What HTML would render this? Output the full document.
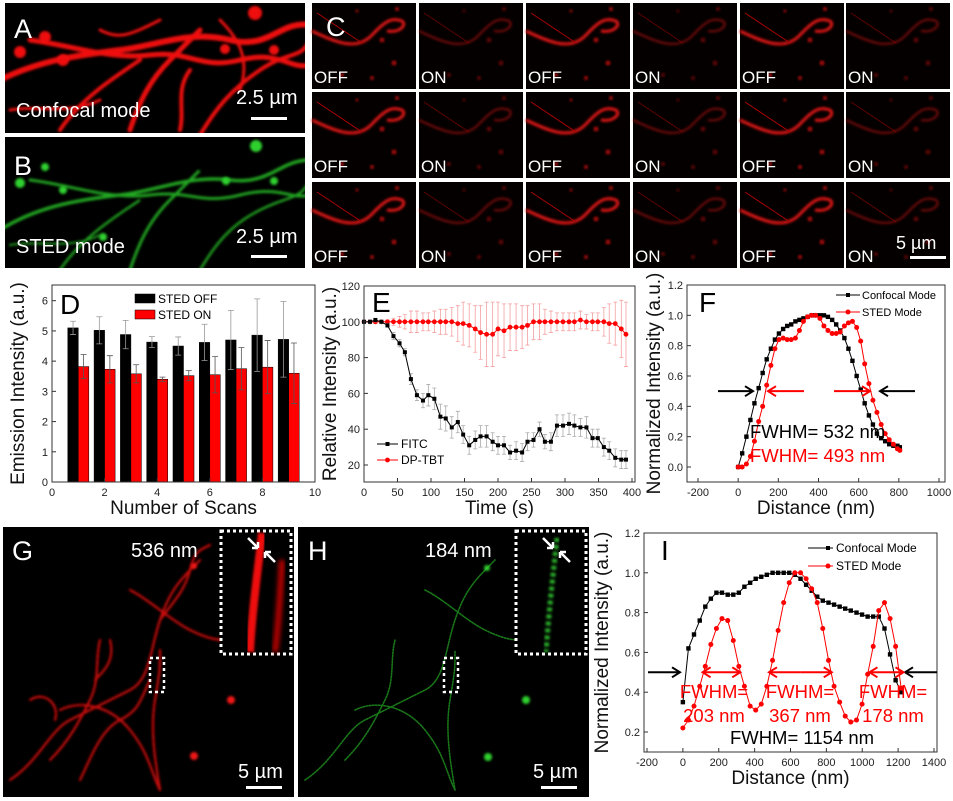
<!DOCTYPE html>
<html><head><meta charset="utf-8">
<style>
html,body{margin:0;padding:0;background:#fff;}
svg{display:block;font-family:"Liberation Sans",Arial,sans-serif;}
</style></head>
<body>
<svg id="fig" width="953" height="801" viewBox="0 0 953 801" xmlns="http://www.w3.org/2000/svg">
<defs>
<filter id="blur1" x="-20%" y="-20%" width="140%" height="140%"><feGaussianBlur stdDeviation="1.2"/></filter>
<filter id="blur2" x="-50%" y="-50%" width="200%" height="200%"><feGaussianBlur stdDeviation="2.5"/></filter>
<clipPath id="clipA"><rect x="5" y="3" width="300" height="130"/></clipPath>
<clipPath id="clipB"><rect x="5" y="137" width="300" height="131"/></clipPath>
<clipPath id="clipG"><rect x="3" y="527" width="291" height="270"/></clipPath>
<clipPath id="clipH"><rect x="298" y="527" width="291" height="270"/></clipPath>
</defs>
<rect x="0" y="0" width="953" height="801" fill="#fff"/>

<!-- Panel A -->
<g>
<rect x="5" y="3" width="300" height="130" fill="#000"/>
<g clip-path="url(#clipA)" fill="none" stroke="#f01010" stroke-linecap="round" filter="url(#blur1)">
<path d="M0,80 C40,60 80,55 120,50 S190,30 230,40 S280,20 310,25" stroke-width="6"/>
<path d="M30,40 C70,45 110,60 150,55 S200,70 240,60 S290,70 310,65" stroke-width="5"/>
<path d="M60,130 C80,100 110,80 140,60" stroke-width="4"/>
<path d="M130,130 C140,100 150,80 170,60 S190,40 200,30" stroke-width="5"/>
<path d="M180,130 C185,110 175,90 190,70" stroke-width="4"/>
<path d="M200,135 C215,110 230,90 260,70 S300,60 310,40" stroke-width="4"/>
<path d="M10,110 C40,105 70,115 100,100" stroke-width="3"/>
<path d="M220,20 C240,40 250,60 240,90" stroke-width="3"/>
<path d="M100,30 C120,40 130,35 160,20" stroke-width="3"/>
</g>
<g fill="#f01010" filter="url(#blur1)">
<circle cx="45" cy="37" r="6"/><circle cx="20" cy="52" r="6"/><circle cx="63" cy="60" r="6"/><circle cx="274" cy="50" r="5"/><circle cx="255" cy="13" r="7"/><circle cx="225" cy="49" r="5"/>
</g>
<text x="14" y="38" font-size="27" fill="#fff">A</text>
<text x="16" y="117" font-size="20" fill="#fff">Confocal mode</text>
<text x="236" y="104" font-size="20" fill="#fff">2.5 µm</text>
<rect x="251" y="117" width="36" height="3" fill="#fff"/>
</g>

<!-- Panel B -->
<g>
<rect x="5" y="137" width="300" height="131" fill="#000"/>
<g clip-path="url(#clipB)" fill="none" stroke="#22a822" stroke-linecap="round" stroke-dasharray="2 2" filter="url(#blur1)">
<path d="M0,230 C40,205 80,200 120,195 S190,175 230,180 S280,160 310,160" stroke-width="3.5"/>
<path d="M30,180 C70,185 110,200 150,195 S200,205 240,195 S290,200 310,195" stroke-width="3"/>
<path d="M60,270 C80,240 110,220 140,200" stroke-width="2.5"/>
<path d="M130,270 C140,240 150,220 170,200 S190,180 200,170" stroke-width="3"/>
<path d="M200,270 C215,245 230,225 260,210 S300,200 310,180" stroke-width="2.5"/>
<path d="M10,245 C40,240 70,250 100,235" stroke-width="2"/>
</g>
<g fill="#2fd02f" filter="url(#blur1)">
<circle cx="45" cy="167" r="4"/><circle cx="20" cy="183" r="5"/><circle cx="63" cy="190" r="4"/><circle cx="274" cy="181" r="4"/><circle cx="256" cy="146" r="6"/><circle cx="226" cy="181" r="4"/><circle cx="103" cy="237" r="4"/>
</g>
<text x="14" y="175" font-size="27" fill="#fff">B</text>
<text x="16" y="253" font-size="20" fill="#fff">STED mode</text>
<text x="236" y="243" font-size="20" fill="#fff">2.5 µm</text>
<rect x="251" y="255" width="36" height="3" fill="#fff"/>
</g>

<!-- Panel C -->
<g id="panelC"></g>

<!-- Panel G -->
<g>
<rect x="3" y="527" width="291" height="270" fill="#000"/>
<g clip-path="url(#clipG)" fill="none" stroke="#e81010" stroke-linecap="round" stroke-width="2.2" filter="url(#blur1)" opacity="0.9">
<path d="M10,780 C40,760 50,730 70,720 S110,700 130,690 S150,650 160,620 S180,580 200,560"/>
<path d="M50,760 C70,740 80,720 90,700 S95,660 100,640"/>
<path d="M80,780 C90,760 100,730 120,720 S140,700 150,680"/>
<path d="M160,790 C155,760 150,730 155,700 S160,670 160,650"/>
<path d="M60,710 C80,700 110,705 130,730 S150,770 160,790"/>
<path d="M130,590 C150,600 170,620 190,630 S220,640 225,640"/>
<path d="M160,620 C175,600 185,590 190,570 S200,550 210,545"/>
<path d="M30,700 C45,690 60,705 55,720"/>
<path d="M95,680 C105,670 115,660 110,640"/>
</g>
<g fill="#f01818" filter="url(#blur1)"><circle cx="231" cy="700" r="4"/><circle cx="194" cy="756" r="4"/><circle cx="194" cy="566" r="3"/></g>
<rect x="221" y="531" width="70" height="123" fill="#000" stroke="#fff" stroke-width="3" stroke-dasharray="3 3"/>
<path d="M262,533 C258,570 252,610 250,652" stroke="#f01010" stroke-width="8" fill="none" filter="url(#blur1)"/>
<path d="M282,560 C280,600 278,630 275,652" stroke="#b00" stroke-width="6" fill="none" filter="url(#blur2)"/>
<path d="M248,538 L258,548 M258,548 L252,548 M258,548 L258,542 M275,562 L265,552 M265,552 L271,552 M265,552 L265,558" stroke="#fff" stroke-width="2.5" fill="none"/>
<rect x="150" y="658" width="14" height="34" fill="none" stroke="#fff" stroke-width="2.5" stroke-dasharray="3 3"/>
<text x="12" y="560" font-size="27" fill="#fff">G</text>
<text x="131" y="557" font-size="20" fill="#fff">536 nm</text>
<text x="238" y="778" font-size="20" fill="#fff">5 µm</text>
<rect x="246" y="786" width="36" height="3" fill="#fff"/>
</g>

<!-- Panel H -->
<g>
<rect x="298" y="527" width="291" height="270" fill="#000"/>
<g clip-path="url(#clipH)" fill="none" stroke="#1e8a1e" stroke-linecap="round" stroke-width="1.6" stroke-dasharray="1.5 1.5" opacity="0.85">
<path d="M305,780 C335,760 345,730 365,720 S405,700 425,690 S445,650 455,620 S475,580 495,560"/>
<path d="M345,760 C365,740 375,720 385,700 S390,660 395,640"/>
<path d="M455,790 C450,760 445,730 450,700 S455,670 455,650"/>
<path d="M355,710 C375,700 405,705 425,730 S445,770 455,790"/>
<path d="M425,590 C445,600 465,620 485,630 S515,640 520,640"/>
</g>
<g fill="#2fd02f" filter="url(#blur1)"><circle cx="526" cy="700" r="4"/><circle cx="488" cy="757" r="4"/><circle cx="487" cy="568" r="3"/></g>
<rect x="516" y="531" width="70" height="123" fill="#000" stroke="#fff" stroke-width="3" stroke-dasharray="3 3"/>
<path d="M557,538 C553,575 549,610 546,652" stroke="#2ab02a" stroke-width="5" stroke-dasharray="4 3" fill="none" filter="url(#blur1)"/>
<path d="M543,538 L553,548 M553,548 L547,548 M553,548 L553,542 M570,562 L560,552 M560,552 L566,552 M560,552 L560,558" stroke="#fff" stroke-width="2.5" fill="none"/>
<rect x="444" y="658" width="14" height="34" fill="none" stroke="#fff" stroke-width="2.5" stroke-dasharray="3 3"/>
<text x="308" y="560" font-size="27" fill="#fff">H</text>
<text x="425" y="557" font-size="20" fill="#fff">184 nm</text>
<text x="533" y="778" font-size="20" fill="#fff">5 µm</text>
<rect x="541" y="786" width="36" height="3" fill="#fff"/>
</g>

<g id="chartD"></g>
<g id="chartE"></g>
<g id="chartF"></g>
<g id="chartI"></g>
</svg>

<script>
// ---------- Chart D data ----------
const scansD = [1,2,3,4,5,6,7,8,9];
const offD = [5.1,5.02,4.88,4.63,4.5,4.62,4.7,4.86,4.72];
const offErrD = [0.22,0.45,0.47,0.18,0.3,0.6,0.98,1.2,1.25];
const onD = [3.82,3.73,3.58,3.4,3.52,3.55,3.75,3.8,3.6];
const onErrD = [0.4,0.45,0.3,0.07,0.17,0.6,0.7,0.88,1.0];
const ticksDX = [0,2,4,6,8,10];
const ticksDY = [0,1,2,3,4,5,6];

// ---------- Chart E data ----------
const timeE = [0,9,17,26,35,44,53,61,70,79,88,96,105,114,122,131,140,148,157,166,174,183,192,200,209,218,227,236,244,253,262,270,279,288,297,306,314,323,332,341,349,358,366,375,384,391];
const fitcE = [100,100,101,100,98,92,88,83,68,59,56,59,57,47,46,41,44,37,31,34,36,36,33,31,31,27,28,27,33,34,40,33,33,42,42,43,42,41,41,35,35,30,28,24,23,23];
const fitcErrE = [1,1,1,1,1,2,2,2,3,3,4,6,6,7,7,6,6,5,5,5,6,6,5,5,5,4,5,5,5,4,4,4,5,6,6,6,6,5,6,5,5,5,5,5,5,5];
const dptbtE = [100,100,100,100,100,100,100,100,100,100,100,100,100,100,100,100,99,99,98,96,94,93,93,96,95,97,97,97,98,100,100,100,100,100,100,100,100,101,100,100,100,100,99,99,96,93];
const dptbtErrE = [1,1,1,1,1,2,3,4,6,6,5,5,6,7,7,8,10,12,12,13,15,18,18,15,15,13,13,12,11,10,10,7,6,5,5,5,5,5,4,5,5,8,11,12,16,18];
const ticksEX = [0,50,100,150,200,250,300,350,400];
const ticksEY = [20,40,60,80,100,120];

// ---------- Chart F data ----------
const distFconf = [0,20,41,61,81,102,122,142,163,183,203,224,244,264,285,305,325,346,366,386,407,427,447,468,488,508,529,549,569,590,610,630,651,671,691,712,732,752,773,793,805];
const confF = [0,0.09,0.2,0.31,0.42,0.52,0.62,0.71,0.78,0.84,0.88,0.91,0.93,0.94,0.96,0.97,0.98,0.99,1.0,1.0,1.0,1.0,0.99,0.97,0.94,0.9,0.85,0.78,0.7,0.6,0.51,0.42,0.34,0.28,0.22,0.19,0.17,0.15,0.14,0.14,0.13];
const distFsted = [0,20,41,61,81,102,122,142,163,183,203,224,244,264,285,305,325,346,366,386,407,427,447,468,488,508,529,549,569,590,610,630,651,671,691,712,732,752,773,793,805];
const stedF = [0,0,0.02,0.07,0.17,0.3,0.4,0.54,0.67,0.78,0.84,0.85,0.84,0.84,0.85,0.9,0.96,0.99,1.0,1.0,0.98,0.93,0.9,0.88,0.88,0.89,0.93,0.95,0.96,0.92,0.83,0.68,0.55,0.44,0.36,0.28,0.22,0.18,0.15,0.12,0.11];
const ticksFX = [-200,0,200,400,600,800,1000];
const ticksFY = [0,0.2,0.4,0.6,0.8,1.0,1.2];

// ---------- Chart I data ----------
const distI = [0,31,62,94,125,156,187,218,250,281,312,343,375,406,437,468,500,531,562,593,624,656,687,718,749,780,812,843,874,905,936,968,999,1030,1061,1092,1124,1155,1186,1217];
const confI = [0.35,0.62,0.69,0.76,0.83,0.87,0.9,0.9,0.89,0.89,0.9,0.93,0.95,0.97,0.98,0.99,1.0,1.0,1.0,1.0,0.99,0.97,0.94,0.91,0.88,0.86,0.85,0.84,0.83,0.82,0.81,0.8,0.79,0.78,0.78,0.78,0.72,0.59,0.46,0.4];
const stedI = [0.22,0.26,0.33,0.43,0.53,0.64,0.72,0.77,0.76,0.66,0.53,0.43,0.33,0.31,0.34,0.43,0.56,0.71,0.85,0.95,1.0,1.0,0.97,0.92,0.85,0.72,0.56,0.43,0.35,0.28,0.25,0.26,0.34,0.49,0.63,0.81,0.85,0.77,0.63,0.42];
const ticksIX = [-200,0,200,400,600,800,1000,1200,1400];
const ticksIY = [0.2,0.4,0.6,0.8,1.0,1.2];

const NS = "http://www.w3.org/2000/svg";
function mk(parent, tag, attrs, text){
  const e = document.createElementNS(NS, tag);
  for (const k in attrs) e.setAttribute(k, attrs[k]);
  if (text !== undefined) e.textContent = text;
  parent.appendChild(e);
  return e;
}
function lin(d0,d1,r0,r1){ return v => r0 + (v-d0)*(r1-r0)/(d1-d0); }

function axes(g, box, sx, sy, xt, yt, xfmt, yfmt, xlabel, ylabel, ylx){
  const r = mk(g,'rect',{x:box.x0,y:box.y0,width:box.x1-box.x0,height:box.y1-box.y0,fill:'none',stroke:'#333','stroke-width':1});
  
  
  xt.forEach(v=>{
    const x=sx(v);
    mk(g,'line',{x1:x,x2:x,y1:box.y1,y2:box.y1-4,stroke:'#333'});
    const t=mk(g,'text',{x:x,y:box.y1+14,'font-size':11,'text-anchor':'middle',fill:'#222'},xfmt(v));
    
    
  });
  yt.forEach(v=>{
    const y=sy(v);
    mk(g,'line',{x1:box.x0,x2:box.x0+4,y1:y,y2:y,stroke:'#333'});
    const t=mk(g,'text',{x:box.x0-4,y:y+4,'font-size':11,'text-anchor':'end',fill:'#222'},yfmt(v));
    
    
  });
  const xl=mk(g,'text',{x:(box.x0+box.x1)/2,y:box.y1+32,'font-size':19,'text-anchor':'middle',fill:'#111'},xlabel);
  
  
  const cy=(box.y0+box.y1)/2;
  const yl=mk(g,'text',{x:ylx,y:cy,'font-size':19,'text-anchor':'middle',fill:'#111',transform:`rotate(-90 ${ylx} ${cy})`},ylabel);
  
  
}

// ---------- Panel C tiles ----------
(function(){
  const g=document.getElementById('panelC');
  const xs=[312,419,526,633,740,846], ys=[3,92,182];
  ys.forEach((y,ri)=>xs.forEach((x,ci)=>{
    const off = ci%2===0;
    const tile=mk(g,'g',{});
    
    
    mk(tile,'rect',{x:x,y:y,width:104,height:86,fill:'#050000'});
    const op = off?1:0.55;
    mk(tile,'path',{d:`M${x},${y+28} C${x+25},${y+40} ${x+45},${y+48} ${x+60},${y+32} S${x+80},${y+15} ${x+90},${y+18} C${x+95},${y+22} ${x+88},${y+30} ${x+75},${y+28}`,fill:'none',stroke:'#e01515','stroke-width':off?3:2,opacity:op,filter:'url(#blur1)'});
    mk(tile,'path',{d:`M${x+5},${y+10} C${x+20},${y+20} ${x+35},${y+30} ${x+50},${y+40}`,fill:'none',stroke:'#a00','stroke-width':1,opacity:op});
    [[70,37,2.5],[82,60,2.5],[60,75,2],[30,72,2],[85,6,2],[45,8,1.5]].forEach(p=>mk(tile,'circle',{cx:x+p[0],cy:y+p[1],r:p[2],fill:'#d01010',opacity:op*0.8,filter:'url(#blur1)'}));
    const t=mk(tile,'text',{x:x+2,y:y+80,'font-size':17,fill:'#fff'},off?'OFF':'ON');
    
    
  }));
  const l=mk(g,'text',{x:326,y:36,'font-size':27,fill:'#fff'},'C');
  
  
  const s=mk(g,'text',{x:896,y:249,'font-size':18,fill:'#fff'},'5 µm');
  
  
  const b=mk(g,'rect',{x:910,y:256,width:36,height:3,fill:'#fff'});
  
  
})();

// ---------- Chart D ----------
(function(){
  const g=document.getElementById('chartD');
  const box={x0:52,x1:315,y0:285,y1:482};
  const sx=lin(0,10,box.x0,box.x1), sy=lin(0,6,482,300.7);
  const bw=(sx(1)-sx(0))*0.4;
  scansD.forEach((s,i)=>{
    [[offD,offErrD,'#000',-1,'bar-sted-off'],[onD,onErrD,'#f00',0,'bar-sted-on']].forEach(c=>{
      const v=c[0][i], e=c[1][i], x=sx(s)+c[3]*bw;
      const el=mk(g,'rect',{x:x,y:sy(v),width:bw,height:sy(0)-sy(v),fill:c[2],stroke:'#000','stroke-width':0.5});
      
      
      const cx=x+bw/2;
      const eb=mk(g,'path',{d:`M${cx},${sy(v)} V${sy(v+e)} M${cx-3},${sy(v+e)} H${cx+3} M${cx},${sy(v)} V${sy(v-e)} M${cx-3},${sy(v-e)} H${cx+3}`,stroke:c[3]<0?'#999':'#555','stroke-width':0.8,fill:'none'});
      
      
    });
  });
  axes(g,box,sx,sy,ticksDX,ticksDY,v=>String(v),v=>String(v),'Number of Scans','Emission Intensity (a.u.)',24);
  const L=mk(g,'text',{x:60,y:314,'font-size':28,fill:'#000'},'D');
  
  
  [['#000','STED OFF',294],['#f00','STED ON',310]].forEach(l=>{
    const le=mk(g,'g',{});
    
    
    mk(le,'rect',{x:135,y:l[2],width:20,height:9,fill:l[0],stroke:'#000','stroke-width':0.5});
    mk(le,'text',{x:158,y:l[2]+9,'font-size':12,fill:'#000'},l[1]);
  });
})();

// ---------- Chart E ----------
(function(){
  const g=document.getElementById('chartE');
  const box={x0:364,x1:635,y0:286,y1:482};
  const sx=lin(0,400,364,632), sy=lin(20,120,465,286);
  function series(vals,errs,color,name,marker){
    errs.forEach((e,i)=>{
      const x=sx(timeE[i]);
      const eb=mk(g,'path',{d:`M${x},${sy(vals[i]-e)} V${sy(vals[i]+e)} M${x-2},${sy(vals[i]-e)} H${x+2} M${x-2},${sy(vals[i]+e)} H${x+2}`,stroke:color==='#000'?'#aaa':'#f4a0a0','stroke-width':0.8,fill:'none'});
      
      
    });
    const ln=mk(g,'polyline',{points:vals.map((v,i)=>sx(timeE[i])+','+sy(v)).join(' '),fill:'none',stroke:color,'stroke-width':1});
    
    
    vals.forEach((v,i)=>{
      const p = marker==='sq'
        ? mk(g,'rect',{x:sx(timeE[i])-2,y:sy(v)-2,width:4,height:4,fill:color})
        : mk(g,'circle',{cx:sx(timeE[i]),cy:sy(v),r:2.4,fill:color});
      
      
    });
  }
  series(dptbtE,dptbtErrE,'#f00','dp-tbt','ci');
  series(fitcE,fitcErrE,'#000','fitc','sq');
  axes(g,box,sx,sy,ticksEX,ticksEY,v=>String(v),v=>String(v),'Time (s)','Relative Intensity (a.u.)',336);
  const L=mk(g,'text',{x:372,y:312,'font-size':28,fill:'#000'},'E');
  
  
  [['#000','FITC',444,'sq'],['#f00','DP-TBT',460,'ci']].forEach(l=>{
    const le=mk(g,'g',{});
    
    
    mk(le,'line',{x1:377,x2:398,y1:l[2],y2:l[2],stroke:l[0]});
    if(l[3]==='sq') mk(le,'rect',{x:385.5,y:l[2]-2,width:4,height:4,fill:l[0]}); else mk(le,'circle',{cx:387.5,cy:l[2],r:2.4,fill:l[0]});
    mk(le,'text',{x:401,y:l[2]+4,'font-size':12,fill:'#000'},l[1]);
  });
})();

function profile(g,xs,vals,color,marker,name,sx,sy){
  const ln=mk(g,'polyline',{points:vals.map((v,i)=>sx(xs[i])+','+sy(v)).join(' '),fill:'none',stroke:color,'stroke-width':1});
  
  
  vals.forEach((v,i)=>{
    const p = marker==='sq'
      ? mk(g,'rect',{x:sx(xs[i])-2.2,y:sy(v)-2.2,width:4.4,height:4.4,fill:color})
      : mk(g,'circle',{cx:sx(xs[i]),cy:sy(v),r:2.5,fill:color});
    
    
  });
}
function arrow(g,x1,x2,y,color,name){
  const dir = x2>x1?1:-1;
  const a=mk(g,'path',{d:`M${x1},${y} H${x2} M${x2-dir*8},${y-5} L${x2},${y} L${x2-dir*8},${y+5}`,stroke:color,'stroke-width':2,fill:'none'});
  
  
}

// ---------- Chart F ----------
(function(){
  const g=document.getElementById('chartF');
  const box={x0:687,x1:945,y0:285,y1:482};
  const sx=lin(-200,1000,698,939), sy=lin(0,1.2,467,285);
  profile(g,distFconf,confF,'#000','sq','confocal',sx,sy);
  profile(g,distFsted,stedF,'#f00','ci','sted',sx,sy);
  axes(g,box,sx,sy,ticksFX,ticksFY,v=>String(v),v=>v.toFixed(1),'Distance (nm)','Normalized Intensity (a.u.)',660);
  const y=sy(0.5);
  arrow(g,718,753,y,'#000','fwhm-arrow');
  arrow(g,915,880,y,'#000','fwhm-arrow');
  arrow(g,804,768,y,'#f00','fwhm-arrow');
  arrow(g,834,870,y,'#f00','fwhm-arrow');
  const t1=mk(g,'text',{x:750,y:438,'font-size':18.5,fill:'#000'},'FWHM= 532 nm');
  
  
  const t2=mk(g,'text',{x:750,y:462,'font-size':18.5,fill:'#f00'},'FWHM= 493 nm');
  
  
  const L=mk(g,'text',{x:699,y:312,'font-size':28,fill:'#000'},'F');
  
  
  [['#000','Confocal Mode',295,'sq'],['#f00','STED Mode',312,'ci']].forEach(l=>{
    const le=mk(g,'g',{});
    
    
    mk(le,'line',{x1:836,x2:860,y1:l[2],y2:l[2],stroke:l[0]});
    if(l[3]==='sq') mk(le,'rect',{x:846,y:l[2]-2,width:4,height:4,fill:l[0]}); else mk(le,'circle',{cx:848,cy:l[2],r:2.5,fill:l[0]});
    mk(le,'text',{x:862,y:l[2]+4,'font-size':11,fill:'#000'},l[1]);
  });
})();

// ---------- Chart I ----------
(function(){
  const g=document.getElementById('chartI');
  const box={x0:644,x1:937,y0:533,y1:752};
  const sx=lin(-200,1400,647,934), sy=lin(0.2,1.2,732,533);
  profile(g,distI,confI,'#000','sq','confocal',sx,sy);
  profile(g,distI,stedI,'#f00','ci','sted',sx,sy);
  axes(g,box,sx,sy,ticksIX,ticksIY,v=>String(v),v=>v.toFixed(1),'Distance (nm)','Normalized Intensity (a.u.)',608);
  const y=sy(0.5);
  arrow(g,648,680,y,'#000','fwhm-arrow');
  arrow(g,937,905,y,'#000','fwhm-arrow');
  [[sx(110),sx(320)],[sx(480),sx(830)],[sx(1040),sx(1230)]].forEach(p=>{
    const m=(p[0]+p[1])/2;
    arrow(g,m,p[0],y,'#f00','fwhm-arrow');
    arrow(g,m,p[1],y,'#f00','fwhm-arrow');
  });
  [['203 nm',714],['367 nm',800],['178 nm',893]].forEach(l=>{
    const a=mk(g,'text',{x:l[1],y:698,'font-size':18.5,fill:'#f00','text-anchor':'middle'},'FWHM=');
    
    
    const b=mk(g,'text',{x:l[1],y:722,'font-size':18.5,fill:'#f00','text-anchor':'middle'},l[0]);
    
    
  });
  const t=mk(g,'text',{x:802,y:744,'font-size':18.5,fill:'#000','text-anchor':'middle'},'FWHM= 1154 nm');
  
  
  const L=mk(g,'text',{x:661,y:560,'font-size':28,fill:'#000'},'I');
  
  
  [['#000','Confocal Mode',548,'sq'],['#f00','STED Mode',566,'ci']].forEach(l=>{
    const le=mk(g,'g',{});
    
    
    mk(le,'line',{x1:808,x2:833,y1:l[2],y2:l[2],stroke:l[0]});
    if(l[3]==='sq') mk(le,'rect',{x:826,y:l[2]-2,width:4,height:4,fill:l[0]}); else mk(le,'circle',{cx:828,cy:l[2],r:2.5,fill:l[0]});
    mk(le,'text',{x:836,y:l[2]+4,'font-size':12,fill:'#000'},l[1]);
  });
})();
</script>
</body></html>
